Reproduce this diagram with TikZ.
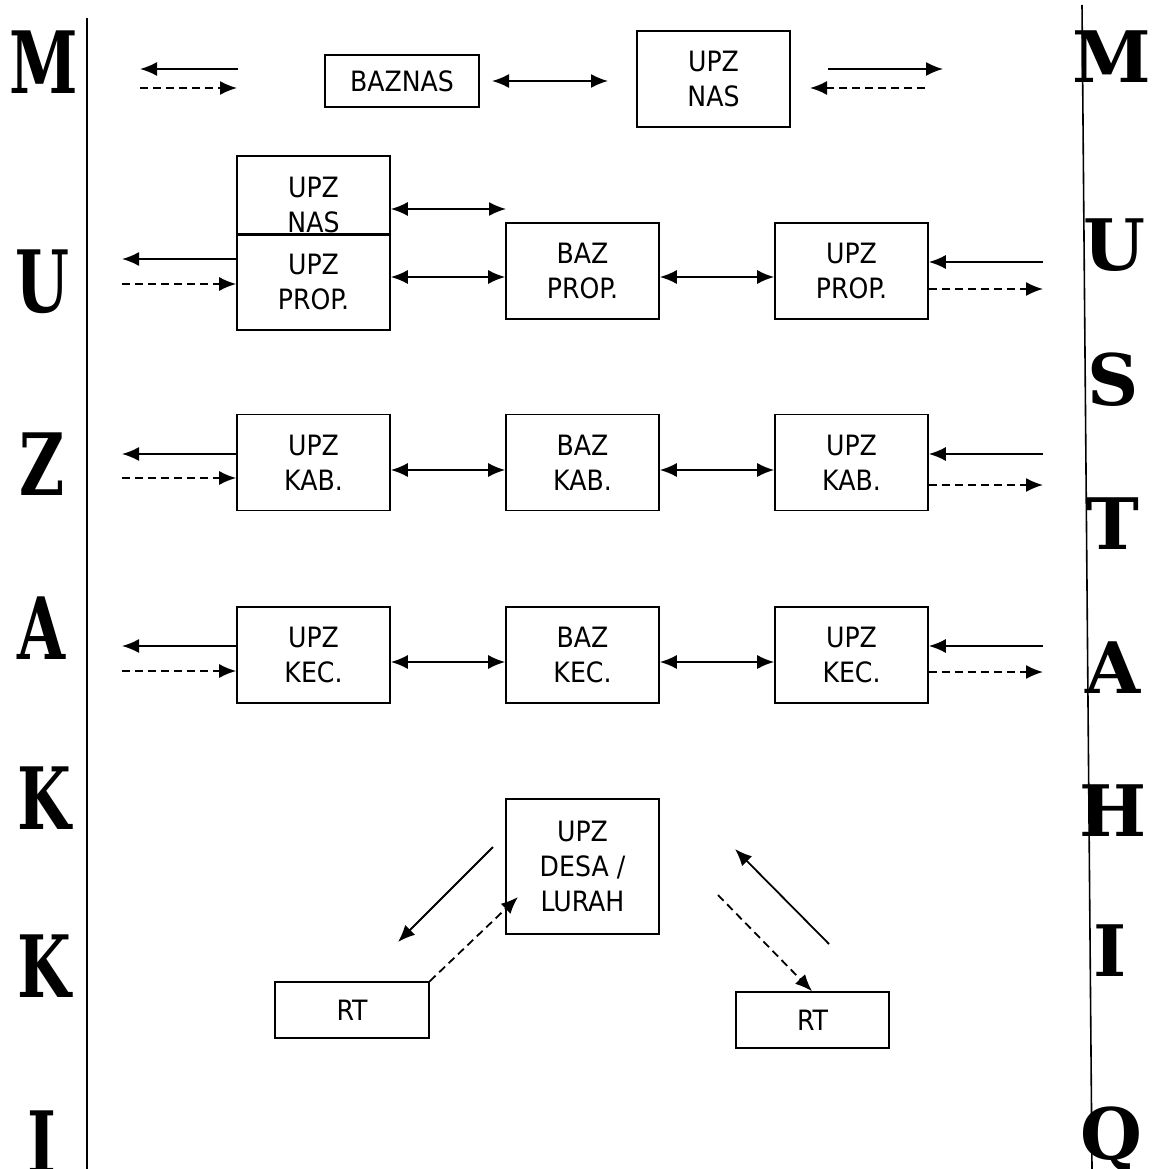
\documentclass[tikz,border=0pt]{standalone}
\usepackage{fontspec}
\setmainfont{DejaVu Sans Condensed}
\newfontfamily\bigL{DejaVu Serif}
\newfontfamily\bigR{DejaVu Serif}
\usetikzlibrary{arrows.meta}
\begin{document}
\begin{tikzpicture}[x=1pt,y=-1pt,
  box/.style={draw,line width=1.6pt,minimum width=153pt,minimum height=96pt,inner sep=0pt,align=center,
     font=\fontsize{28}{35}\selectfont},
  txt/.style={align=center,font=\fontsize{28}{35}\selectfont},
  tip/.tip={Latex[length=17pt,width=14pt]},
  solidarr/.style={line width=1.8pt,-tip},
  dasharr/.style={line width=1.8pt,dash pattern=on 8pt off 5pt,-tip},
  dblarr/.style={line width=1.8pt,tip-tip},
  lettL/.style={font=\bigL\bfseries\fontsize{86}{86}\selectfont,inner sep=0pt,xscale=0.72},
  lettR/.style={font=\bigR\bfseries\fontsize{71}{71}\selectfont,inner sep=0pt},
  sep/.style={line width=1.6pt}
]
\useasboundingbox (0,0) rectangle (1156,1169);
% separator lines
\coordinate (lt) at (87,18); \coordinate (lb) at (87,1169);
\coordinate (rt) at (1082,5); \coordinate (rb) at (1092,1169);
\draw[sep] (lt) -- (lb);
\draw[sep] (rt) -- (rb);
% left letters
\node[lettL] (L1) at (44,62) {M};
\node[lettL] (L2) at (42,282) {U};
\node[lettL] (L3) at (42,464) {Z};
\node[lettL] (L4) at (42,628) {A};
\node[lettL] (L5) at (44,798) {K};
\node[lettL] (L6) at (44,966) {K};
\node[lettL] (L7) at (42,1142) {I};
% right letters
\node[lettR] (R1) at (1112,57) {M};
\node[lettR] (R2) at (1114,245) {U};
\node[lettR] (R3) at (1113,380) {S};
\node[lettR] (R4) at (1113,524) {T};
\node[lettR] (R5) at (1113,668) {A};
\node[lettR] (R6) at (1113,811) {H};
\node[lettR] (R7) at (1110,951) {I};
\node[lettR] (R8) at (1111,1140) {Q};
% row 1
\node[box,minimum width=154pt,minimum height=52pt] (baznas) at (402,81) {BAZNAS};
\node[box] (upznasA) at (713.5,79) {UPZ\\NAS};
% row 2
\node[box,minimum height=79pt] (upznasB) at (313.5,195.5) {};
\node[txt] (upznasBt) at (313.5,205) {UPZ\\NAS};
\node[box] (upzpropL) at (313.5,282) {UPZ\\PROP.};
\node[box] (bazprop) at (582.5,271) {BAZ\\PROP.};
\node[box] (upzpropR) at (851.5,271) {UPZ\\PROP.};
% row 3
\node[box] (upzkabL) at (313.5,462.5) {UPZ\\KAB.};
\node[box] (bazkab) at (582.5,462.5) {BAZ\\KAB.};
\node[box] (upzkabR) at (851.5,462.5) {UPZ\\KAB.};
% row 4
\node[box] (upzkecL) at (313.5,655) {UPZ\\KEC.};
\node[box] (bazkec) at (582.5,655) {BAZ\\KEC.};
\node[box] (upzkecR) at (851.5,655) {UPZ\\KEC.};
% bottom
\node[box,minimum height=135pt] (desa) at (582.5,866.5) {UPZ\\DESA /\\LURAH};
\node[box,minimum width=154pt,minimum height=56pt] (rtL) at (352,1010) {RT};
\node[box,minimum height=56pt] (rtR) at (812.5,1020) {RT};

% free-end coordinates
\coordinate (a1s) at (238,69); \coordinate (a1e) at (140,69);
\coordinate (a2s) at (140,88); \coordinate (a2e) at (237,88);
\coordinate (a3s) at (828,69); \coordinate (a3e) at (943,69);
\coordinate (a4s) at (925,88); \coordinate (a4e) at (810,88);
\coordinate (b1) at (492,81); \coordinate (b2) at (608,81);
\coordinate (c1) at (506,209);
\coordinate (pl1) at (122,259); \coordinate (pl2) at (122,284);
\coordinate (pr1) at (1043,262); \coordinate (pr2) at (1043,289);
\coordinate (kl1) at (122,454); \coordinate (kl2) at (122,478);
\coordinate (kr1) at (1043,454); \coordinate (kr2) at (1043,485);
\coordinate (el1) at (122,646); \coordinate (el2) at (122,671);
\coordinate (er1) at (1043,646); \coordinate (er2) at (1043,672);
\coordinate (d1s) at (493,847); \coordinate (d1e) at (398,942);
\coordinate (d2e) at (518,897);
\coordinate (d3s) at (829,944); \coordinate (d3e) at (735,849);
\coordinate (d4s) at (718,895);

% row 1 arrows
\draw[solidarr] (a1s) -- (a1e);
\draw[dasharr] (a2s) -- (a2e);
\draw[dblarr] (b1) -- (b2);
\draw[solidarr] (a3s) -- (a3e);
\draw[dasharr] (a4s) -- (a4e);
% row 2 arrows
\draw[dblarr] (upznasB.east |- c1) -- (c1);
\draw[dblarr] (upzpropL.east |- 0,277) -- (bazprop.west |- 0,277);
\draw[dblarr] (bazprop.east |- 0,277) -- (upzpropR.west |- 0,277);
\draw[solidarr] (upzpropL.west |- pl1) -- (pl1);
\draw[dasharr] (pl2) -- (upzpropL.west |- pl2);
\draw[solidarr] (pr1) -- (upzpropR.east |- pr1);
\draw[dasharr] (upzpropR.east |- pr2) -- (pr2);
% row 3 arrows
\draw[dblarr] (upzkabL.east |- 0,470) -- (bazkab.west |- 0,470);
\draw[dblarr] (bazkab.east |- 0,470) -- (upzkabR.west |- 0,470);
\draw[solidarr] (upzkabL.west |- kl1) -- (kl1);
\draw[dasharr] (kl2) -- (upzkabL.west |- kl2);
\draw[solidarr] (kr1) -- (upzkabR.east |- kr1);
\draw[dasharr] (upzkabR.east |- kr2) -- (kr2);
% row 4 arrows
\draw[dblarr] (upzkecL.east |- 0,662) -- (bazkec.west |- 0,662);
\draw[dblarr] (bazkec.east |- 0,662) -- (upzkecR.west |- 0,662);
\draw[solidarr] (upzkecL.west |- el1) -- (el1);
\draw[dasharr] (el2) -- (upzkecL.west |- el2);
\draw[solidarr] (er1) -- (upzkecR.east |- er1);
\draw[dasharr] (upzkecR.east |- er2) -- (er2);
% bottom arrows
\draw[solidarr] (d1s) -- (d1e);
\draw[dasharr] (rtL.north east) -- (d2e);
\draw[solidarr] (d3s) -- (d3e);
\draw[dasharr] (d4s) -- (rtR.north west -| 812,0);
\end{tikzpicture}
\end{document}
